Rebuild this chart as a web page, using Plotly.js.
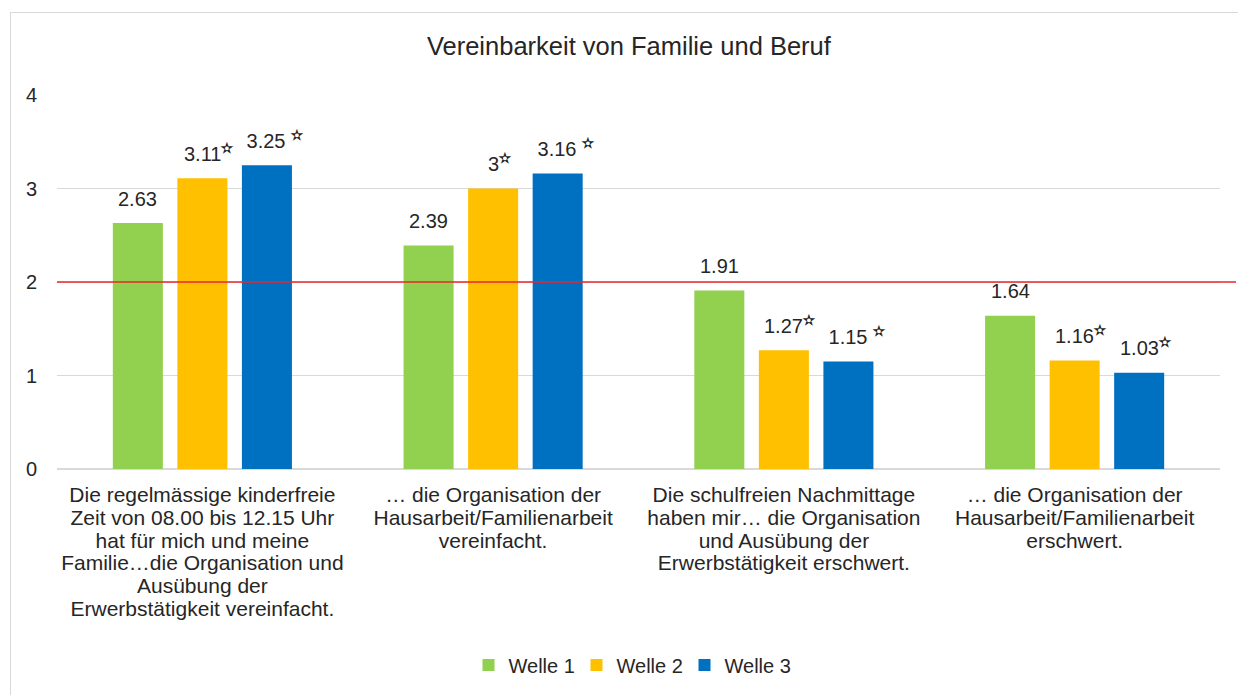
<!DOCTYPE html>
<html>
<head>
<meta charset="utf-8">
<script src="https://cdn.plot.ly/plotly-3.0.1.min.js"></script>
<style>
  html, body { margin: 0; padding: 0; background: #fff; }
  #chart { width: 1238px; height: 695px; }
  #frame { position: absolute; left: 10px; top: 12px; width: 1240px; height: 700px;
           border: 1px solid #d9d9d9; pointer-events: none; }
</style>
</head>
<body>
<div id="chart"></div>
<div id="frame"></div>
<script>
// ---- data ----
const categories = [
  "Die regelmässige kinderfreie<br>Zeit von 08.00 bis 12.15 Uhr<br>hat für mich und meine<br>Familie…die Organisation und<br>Ausübung der<br>Erwerbstätigkeit vereinfacht.",
  "… die Organisation der<br>Hausarbeit/Familienarbeit<br>vereinfacht.",
  "Die schulfreien Nachmittage<br>haben mir… die Organisation<br>und Ausübung der<br>Erwerbstätigkeit erschwert.",
  "… die Organisation der<br>Hausarbeit/Familienarbeit<br>erschwert."
];
const seriesNames = ["Welle 1", "Welle 2", "Welle 3"];
const welle1 = [2.63, 2.39, 1.91, 1.64];
const welle2 = [3.11, 3.00, 1.27, 1.16];
const welle3 = [3.25, 3.16, 1.15, 1.03];
const labels1 = ["2.63", "2.39", "1.91", "1.64"];
const labels2 = ["3.11", "3", "1.27", "1.16"];
const labels3 = ["3.25", "3.16", "1.15", "1.03"];
// star marker after the value ("" = none, "*" = star, " *" = space + star)
const stars1 = ["", "", "", ""];
const stars2 = ["*", "*", "*", "*"];
const stars3 = [" *", " *", " *", "*"];
const threshold = 2;
const colors = ["#92D050", "#FFC000", "#0070C0"];

// ---- build ----
const FONT = "Liberation Sans, Arial, sans-serif";
const TXT = "#262626";
const allValues = [welle1, welle2, welle3];
const allLabels = [labels1, labels2, labels3];
const allStars = [stars1, stars2, stars3];

const bargap = 0.334, bargroupgap = 0.225;
const slot = (1 - bargap) / 3;

const traces = allValues.map((vals, i) => ({
  type: "bar",
  name: seriesNames[i],
  x: categories,
  y: vals,
  marker: { color: colors[i] },
  hoverinfo: "skip"
}));

function starHtml(s) {
  if (!s) return "";
  const sp = s.startsWith(" ") ? " " : "";
  return sp + "<b><sup>✫</sup></b>";
}

const annotations = [];
allValues.forEach((vals, i) => {
  vals.forEach((v, c) => {
    const st = starHtml(allStars[i][c]);
    const pre = st ? '<span style="color:rgba(0,0,0,0)">' + st + '</span>' : "";
    annotations.push({
      xref: "x", yref: "y",
      x: c + (i - 1) * slot,
      y: v,
      text: pre + allLabels[i][c] + st,
      showarrow: false,
      xanchor: "center", yanchor: "bottom",
      yshift: 11.5,
      font: { family: FONT, size: 20, color: TXT }
    });
  });
});

const layout = {
  width: 1238, height: 695,
  paper_bgcolor: "#fff", plot_bgcolor: "#fff",
  margin: { l: 57, r: 18, t: 95, b: 225 },
  barmode: "group",
  bargap: bargap,
  bargroupgap: bargroupgap,
  font: { family: FONT, size: 20, color: TXT },
  title: {
    text: "Vereinbarkeit von Familie und Beruf",
    font: { family: FONT, size: 25.5, color: TXT },
    xref: "container", x: 0.508, xanchor: "center",
    yref: "container", y: 1 - 46 / 695, yanchor: "middle"
  },
  xaxis: {
    type: "category",
    tickmode: "array",
    tickvals: categories.map((_, i) => i),
    ticktext: categories,
    range: [-0.5, categories.length - 0.5],
    showgrid: false,
    showline: false,
    ticks: "",
    ticklabelstandoff: 11,
    tickfont: { family: FONT, size: 21, color: TXT }
  },
  yaxis: {
    range: [0, 4],
    dtick: 1,
    showgrid: true,
    gridcolor: "#d9d9d9",
    gridwidth: 1,
    zeroline: true,
    zerolinecolor: "#d9d9d9",
    zerolinewidth: 1.5,
    showline: false,
    ticks: "",
    ticklabelstandoff: 19,
    tickfont: { family: FONT, size: 20, color: TXT }
  },
  shapes: [{
    type: "line", xref: "paper", yref: "y",
    x0: 0, x1: 1.0138, y0: threshold, y1: threshold,
    line: { color: "#E8262A", width: 1.5 },
    layer: "above"
  }],
  annotations: annotations,
  showlegend: true,
  legend: {
    orientation: "h",
    x: 0.5 - 8 / 1163, xanchor: "center",
    y: -(665 - 470) / 375, yanchor: "middle",
    font: { family: FONT, size: 20, color: TXT },
    itemwidth: 30,
    entrywidth: 63,
    traceorder: "normal"
  }
};

const LINE_EM = 1.086; // tighter line spacing for the multi-line category labels
Plotly.newPlot("chart", traces, layout, { displayModeBar: false, staticPlot: true }).then(gd => {
  gd.querySelectorAll(".xtick text tspan.line").forEach(t => {
    const m = /(-?[\d.]+)em/.exec(t.getAttribute("dy") || "");
    if (m) t.setAttribute("dy", (parseFloat(m[1]) / 1.3 * LINE_EM) + "em");
  });
});
</script>
</body>
</html>
